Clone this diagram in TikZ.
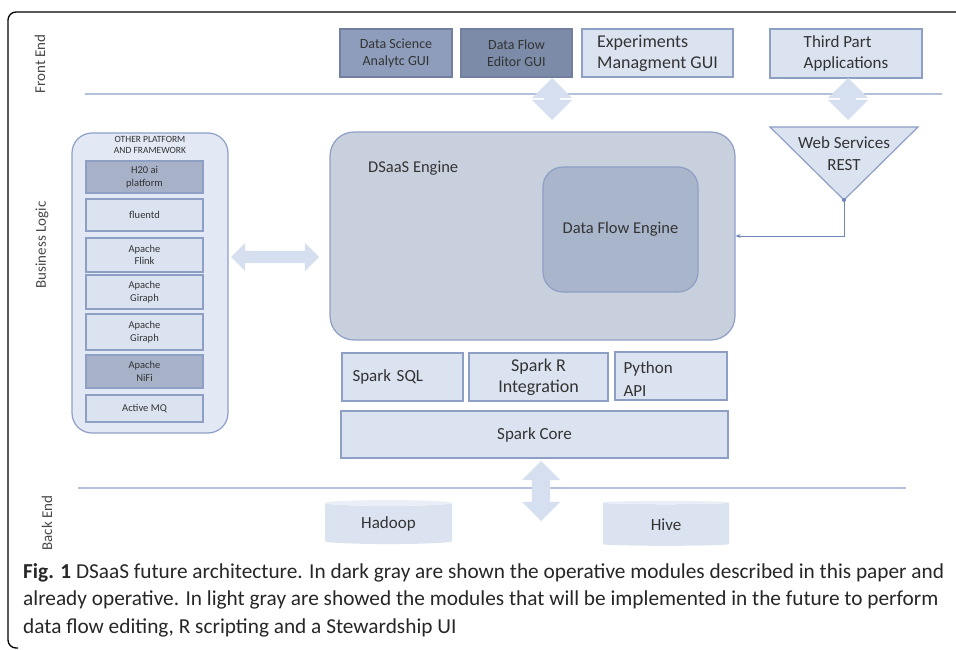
\documentclass[tikz,border=0pt]{standalone}
\usepackage{fontspec}
\setmainfont{Carlito}
\usepackage{tikz}
\usetikzlibrary{%
  positioning
 ,arrows.meta
 ,calc
 ,shapes
 ,shapes.arrows
 ,shapes.geometric
}
\definecolor{lite}{HTML}{DBE3F1}
\definecolor{litedraw}{HTML}{8E9FC6}
\definecolor{dark}{HTML}{8D9DBB}
\definecolor{darker}{HTML}{7B8BA8}
\definecolor{mid}{HTML}{A7B2C9}
\definecolor{eng}{HTML}{C9D0DD}
\definecolor{engin}{HTML}{A9B5CA}
\definecolor{blk}{HTML}{D6DFEF}
\definecolor{rule}{HTML}{B5C0DA}
\definecolor{txt}{HTML}{333333}
\definecolor{lnk}{HTML}{6F86BC}
\newcommand{\fsz}[2]{\fontsize{#1}{#2}\selectfont}
\tikzstyle{box}=[draw=litedraw,fill=lite,line width=1.2pt,align=center]
\tikzstyle{dbox}=[box,fill=dark,draw=litedraw!80!black]
\tikzstyle{sbox}=[box,minimum width=117pt,font=\fsz{10.5}{12.5}]
\tikzstyle{bigarr}=[double arrow,fill=blk,draw=none,inner xsep=0pt,rotate=90]
\tikzstyle{db}=[cylinder,shape border rotate=90,aspect=0.1,draw=none,
  cylinder uses custom fill,cylinder body fill=lite,cylinder end fill=lite!60,font=\fsz{17}{20}]
\tikzstyle{side}=[rotate=90,text=txt!90,font=\fsz{15}{17}]

\begin{document}
\begin{tikzpicture}[x=1pt,y=-1pt,%
  every node/.style={text=txt,inner sep=2pt,align=center}]
\useasboundingbox (0,0) rectangle (956,650);
\draw[line width=1.3pt,rounded corners=8pt] (956,12) -- (8,12) -- (8,648) -- (18,648);
% layer titles
\node[side](fe)at(40,64){Front End};
\node[side](bl)at(42,245){Business Logic};
\node[side](be)at(47,523){Back End};
\draw[rule,line width=2pt] (85,94) -- (942,94);
\draw[rule,line width=2pt] (78,488) -- (906,488);
% front end
\node[dbox,minimum width=112pt,minimum height=48pt,font=\fsz{14}{17}](dsgui)at(396,53){Data Science\\Analytc GUI};
\node[dbox,fill=darker,minimum width=111pt,minimum height=48pt,font=\fsz{14}{17}](dfgui)at(516.5,53){Data Flow\\Editor GUI};
\node[box,minimum width=151pt,minimum height=48pt,font=\fsz{18}{21},align=left](expgui)at(657.5,53){Experiments\\Managment GUI};
\node[box,minimum width=152pt,minimum height=49pt,font=\fsz{17}{21},align=left](tpa)at(846,53.5){Third Part\\Applications};
\node[bigarr,minimum height=42pt,inner ysep=8pt,double arrow head extend=12pt](a1)at(552,99){};
\node[bigarr,minimum height=42pt,inner ysep=8pt,double arrow head extend=12pt](a2)at(848,99){};
% web services
\coordinate(wsl)at(770,127);
\coordinate(wsr)at(918,127);
\coordinate(wsapex)at(844,200);
\draw[box] (wsl) -- (wsr) -- (wsapex) -- cycle;
\node[font=\fsz{17}{22}](ws)at(844,154){Web Services\\REST};
% engine
\node[draw=litedraw,fill=eng,line width=1.2pt,rounded corners=24pt,minimum width=405pt,minimum height=208pt](dse)at(532.5,236){};
\node[anchor=west,font=\fsz{16.5}{20}](dsel)at(366,168){DSaaS Engine};
\node[draw=litedraw,fill=engin,line width=1.2pt,rounded corners=20pt,minimum width=155pt,minimum height=125pt,font=\fsz{16.5}{20}](dfe)at(620.5,229.5){Data Flow Engine};
\fill[lnk] (wsapex) circle (2pt);
\draw[lnk,line width=1pt,-{Stealth[length=5pt,width=4pt]}] (wsapex) |- (dse.east);
% other platforms
\node[draw=litedraw,fill=lite!80,line width=1.2pt,rounded corners=20pt,minimum width=156pt,minimum height=300pt](opf)at(150,283){};
\node[font=\fsz{9.5}{10.5}](opfl)at(150,145){OTHER PLATFORM\\AND FRAMEWORK};
\node[sbox,fill=mid,minimum height=32pt](h2o)at(144.5,177){H20 ai\\platform};
\node[sbox,minimum height=32pt](flu)at(144.5,215){fluentd};
\node[sbox,minimum height=34pt](fli)at(144.5,255){Apache\\Flink};
\node[sbox,minimum height=34pt](gir1)at(144.5,292){Apache\\Giraph};
\node[sbox,minimum height=36pt](gir2)at(144.5,332){Apache\\Giraph};
\node[sbox,fill=mid,minimum height=33pt](nifi)at(144.5,371.5){Apache\\NiFi};
\node[sbox,minimum height=27pt](amq)at(144.5,408.5){Active MQ};
\node[bigarr,rotate=-90,minimum height=88pt,inner ysep=6pt,double arrow head extend=8pt](a3)at(275,257){};
% spark
\node[box,minimum width=121pt,minimum height=48pt,text width=100pt,align=left,font=\fsz{17}{21}](sql)at(402.5,377){Spark SQL};
\node[box,minimum width=139pt,minimum height=48pt,font=\fsz{18}{21}](sr)at(538.5,377){Spark R\\Integration};
\node[box,minimum width=112pt,minimum height=48pt](py)at(671,376){};
\node[anchor=north west,align=left,font=\fsz{17}{23}](pyl)at($(py.north west)+(7,8)$){Python\\API};
\node[box,minimum width=387pt,minimum height=47pt,font=\fsz{17}{21}](core)at(534.5,434.5){Spark Core};
% back end
\node[bigarr,minimum height=60pt,inner ysep=9pt,double arrow head extend=10pt](a4)at(541,491){};
\node[db,minimum width=127pt,minimum height=44pt](hdp)at(388.5,524){Hadoop};
\node[db,minimum width=126pt,minimum height=45pt](hive)at(666,524.5){Hive};
% caption
\node[anchor=north west,align=left,text=black!85,font=\fsz{21.3}{27.5}](cap)at(21,561){\textbf{Fig. 1} DSaaS future architecture. In dark gray are shown the operative modules described in this paper and\\already operative. In light gray are showed the modules that will be implemented in the future to perform\\data flow editing, R scripting and a Stewardship UI};
\end{tikzpicture}
\end{document}
